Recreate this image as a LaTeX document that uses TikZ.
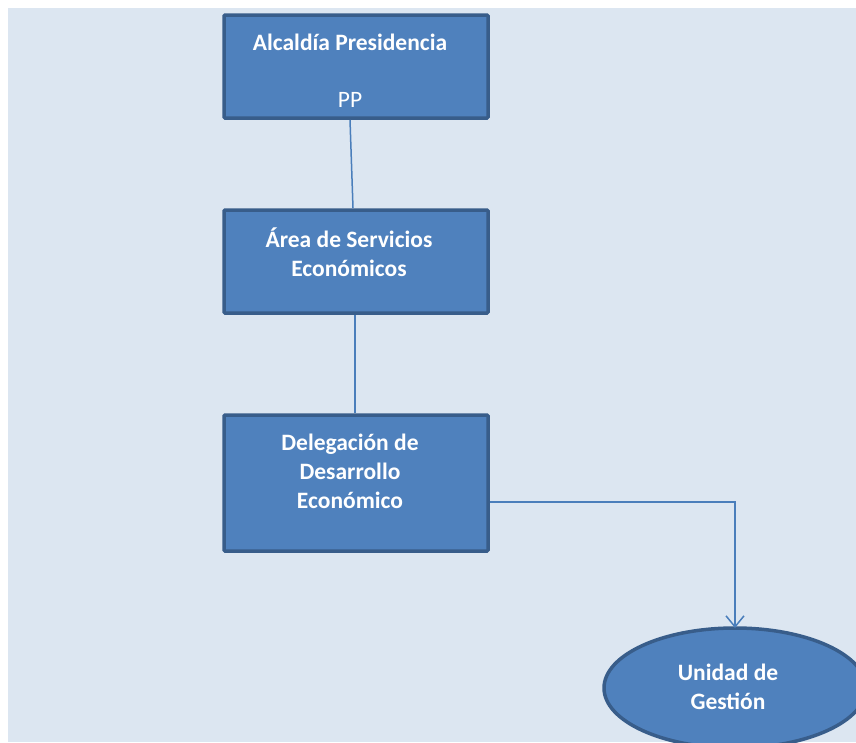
\documentclass[tikz,border=0pt]{standalone}
\usepackage{fontspec}
\setmainfont{Carlito}
\usetikzlibrary{arrows.meta}
\definecolor{bgc}{HTML}{DCE6F1}
\definecolor{boxfill}{HTML}{4F81BD}
\definecolor{boxline}{HTML}{385D8A}
\definecolor{conn}{HTML}{4A7EBB}
\tikzset{
  orgbox/.style={draw=boxline, fill=boxfill, line width=3.5pt, rounded corners=1pt},
  lbl/.style={text=white, font=\fontsize{23.5}{29}\selectfont\bfseries, align=center, inner sep=0pt},
  conline/.style={draw=conn, line width=1.5pt}
}
\begin{document}
\begin{tikzpicture}[x=1pt,y=-1pt]
\useasboundingbox (0,0) rectangle (856,742);
\fill[bgc] (8,8) rectangle (856,742);
% ellipse (clipped by page)
\begin{scope}
\clip (0,0) rectangle (856,742);
\draw[orgbox] (735,688) ellipse (131pt and 60pt);
\node[lbl] (ug) at (728,687) {Unidad de\\Gestión};
\end{scope}
\coordinate (ugtop) at (735,628);
% boxes
\draw[orgbox] (224,15) rectangle (488,118);
\node[lbl] (b1t) at (350,42) {Alcaldía Presidencia};
\node[text=white, font=\fontsize{23.5}{29}\selectfont, inner sep=0pt] (b1pp) at (350,100) {PP};
\draw[orgbox] (224,210) rectangle (488,313);
\node[lbl] (b2t) at (349,252) {Área de Servicios\\Económicos};
\draw[orgbox] (224,415) rectangle (488,551);
\node[lbl] (b3t) at (350,471) {Delegación de\\Desarrollo\\Económico};
% connector anchors
\coordinate (c1a) at (350,120);
\coordinate (c1b) at (353,208);
\coordinate (c2a) at (355,315);
\coordinate (c2b) at (355,413);
\coordinate (c3a) at (490,502);
\coordinate (c3m) at (735,502);
\draw[conline] (c1a) -- (c1b);
\draw[conline] (c2a) -- (c2b);
\draw[conline, -{Straight Barb[length=11pt,width=18pt,line width=1.5pt]}] (c3a) -- (c3m) -- (ugtop);
\end{tikzpicture}
\end{document}
